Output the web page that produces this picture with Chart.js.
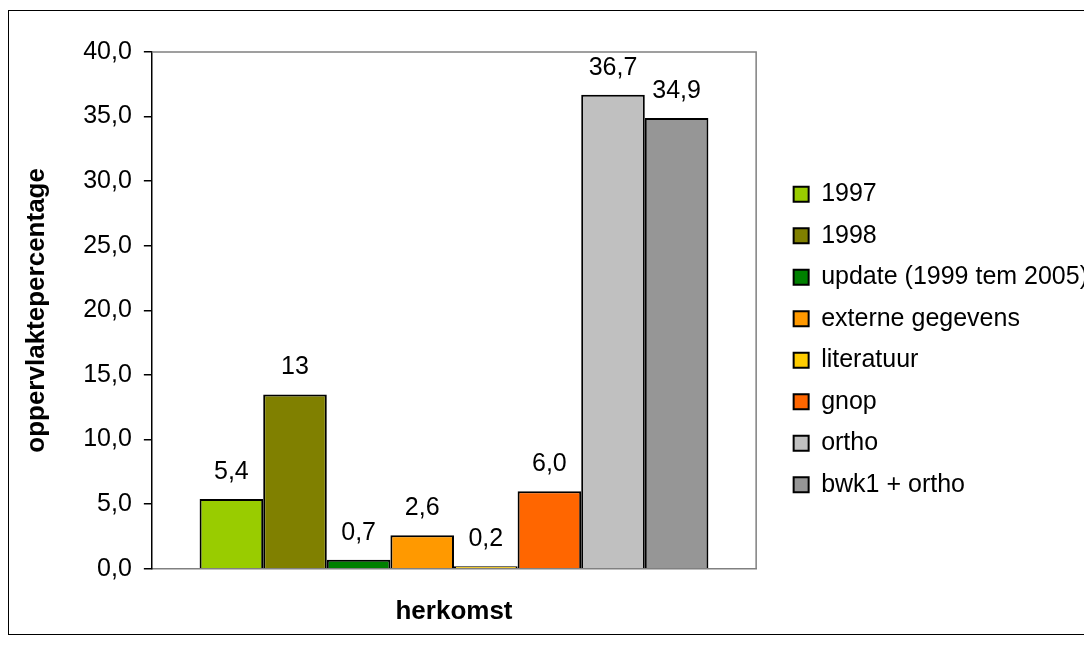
<!DOCTYPE html>
<html>
<head>
<meta charset="utf-8">
<script src="https://cdn.jsdelivr.net/npm/chart.js@4/dist/chart.umd.min.js"></script>
<style>
    html, body {
        margin: 0;
        padding: 0;
        background: #ffffff;
        overflow: hidden;
        width: 1084px;
        height: 652px;
    }
    #frame {
        position: absolute;
        left: 8px;
        top: 10px;
        width: 1200px;
        height: 625px;
        border: 1.5px solid #000;
        box-sizing: border-box;
    }
    #wrap {
        position: absolute;
        left: 0;
        top: 0;
        width: 1098px;
        height: 652px;
    }
</style>
</head>
<body>
<div id="frame"></div>
<div id="wrap"><canvas id="herkomstChart"></canvas></div>
<script>
// HERKOMST CHART
// Oppervlaktepercentage per herkomst
const categories = ["herkomst"];

const seriesNames = [
    "1997",
    "1998",
    "update (1999 tem 2005)",
    "externe gegevens",
    "literatuur",
    "gnop",
    "ortho",
    "bwk1 + ortho"
];

const seriesValues = [5.4, 13.5, 0.7, 2.6, 0.2, 6.0, 36.7, 34.9];

// labels as printed above the bars
const valueLabels = ["5,4", "13", "0,7", "2,6", "0,2", "6,0", "36,7", "34,9"];

const seriesColors = [
    "#99cc00",
    "#808000",
    "#008000",
    "#ff9900",
    "#ffcc00",
    "#ff6600",
    "#c0c0c0",
    "#969696"
];

const yTicks = [0, 5, 10, 15, 20, 25, 30, 35, 40];

const FONT = "'Liberation Sans', Arial, sans-serif";
Chart.defaults.font.family = FONT;
Chart.defaults.color = "#000";

// Draw value labels above each bar
const barLabels = {
    id: "barLabels",
    afterDatasetsDraw(chart) {
        const ctx = chart.ctx;
        ctx.save();
        ctx.font = "25px " + FONT;
        ctx.fillStyle = "#000";
        ctx.textAlign = "center";
        ctx.textBaseline = "alphabetic";
        chart.data.datasets.forEach((ds, i) => {
            const bar = chart.getDatasetMeta(i).data[0];
            ctx.fillText(valueLabels[i], bar.x, bar.y - 20);
        });
        ctx.restore();
    }
};

// Grey plot area border (top and right)
const plotBorder = {
    id: "plotBorder",
    beforeDatasetsDraw(chart) {
        const { ctx, chartArea } = chart;
        ctx.save();
        ctx.strokeStyle = "#808080";
        ctx.lineWidth = 1.5;
        ctx.beginPath();
        ctx.moveTo(chartArea.left, chartArea.top);
        ctx.lineTo(chartArea.right, chartArea.top);
        ctx.lineTo(chartArea.right, chartArea.bottom);
        ctx.stroke();
        ctx.restore();
    }
};

const ctx = document.getElementById("herkomstChart");

new Chart(ctx, {
    type: "bar",
    data: {
        labels: categories,
        datasets: seriesNames.map((name, i) => ({
            label: name,
            data: [seriesValues[i]],
            backgroundColor: seriesColors[i],
            borderColor: "#000",
            borderWidth: 2,
            categoryPercentage: 0.842,
            barPercentage: 1.0
        }))
    },
    options: {
        responsive: true,
        maintainAspectRatio: false,
        animation: false,
        devicePixelRatio: 1,
        layout: {
            padding: { left: 20, top: 52, right: 0, bottom: 25 }
        },
        plugins: {
            legend: {
                position: "right",
                maxWidth: 400,
                labels: {
                    color: "#000",
                    boxWidth: 15,
                    boxHeight: 15,
                    padding: 16.5,
                    font: { size: 25 }
                }
            },
            tooltip: { enabled: false }
        },
        scales: {
            x: {
                ticks: { display: false },
                grid: { display: false },
                border: { color: "#808080", width: 1.5 },
                title: {
                    display: true,
                    text: "herkomst",
                    font: { size: 26, weight: "bold" },
                    padding: { top: 19, bottom: 0 }
                }
            },
            y: {
                min: 0,
                max: 40,
                afterBuildTicks(scale) {
                    scale.ticks = yTicks.map(v => ({ value: v }));
                },
                ticks: {
                    font: { size: 25 },
                    padding: 12,
                    callback: v => v.toFixed(1).replace(".", ",")
                },
                grid: {
                    drawOnChartArea: false,
                    tickLength: 8,
                    color: "#000",
                    lineWidth: 1.5
                },
                border: { color: "#000", width: 1.5 },
                title: {
                    display: true,
                    text: "oppervlaktepercentage",
                    font: { size: 26, weight: "bold" },
                    padding: { top: 1, bottom: 19 }
                }
            },
            gap: {
                position: "right",
                display: true,
                ticks: { display: false },
                grid: { display: false },
                border: { display: false },
                afterFit(scale) {
                    scale.width = 21;
                }
            }
        }
    },
    plugins: [barLabels, plotBorder]
});
</script>
</body>
</html>
